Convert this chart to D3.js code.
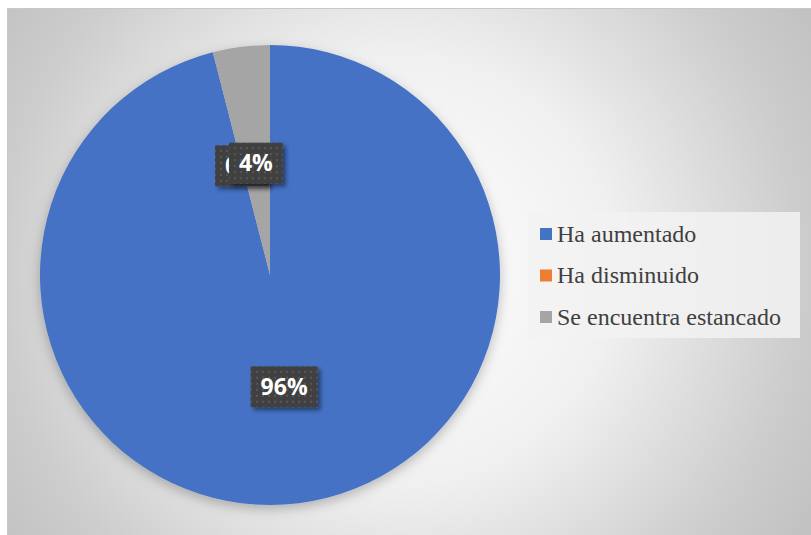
<!DOCTYPE html>
<html>
<head>
<meta charset="utf-8">
<script src="https://cdn.jsdelivr.net/npm/d3@7"></script>
<style>
  html, body { margin: 0; padding: 0; background: #ffffff; }
  svg { display: block; }
  .legend-text { font-family: "Liberation Serif", "DejaVu Serif", "Times New Roman", serif; }
</style>
</head>
<body>
<svg id="chart" width="811" height="535"></svg>
<script>
// Survey answers and their shares (percent)
const categories = ["Ha aumentado", "Ha disminuido", "Se encuentra estancado"];
const values = [96, 0, 4];
const colors = ["#4472c4", "#ed7d31", "#a5a5a5"];

const svg = d3.select("#chart");
const W = 811, H = 535;
const defs = svg.append("defs");

// Radial background fill of the chart area
const bg = defs.append("radialGradient")
  .attr("id", "bgGrad")
  .attr("gradientUnits", "userSpaceOnUse")
  .attr("cx", 400).attr("cy", 270).attr("r", 480);
[[0, "#ffffff"], [0.45, "#f0f0f0"], [0.83, "#cdcdcd"], [1, "#c2c2c2"]].forEach(([o, c]) =>
  bg.append("stop").attr("offset", o).attr("stop-color", c));

// Soft drop shadow for the pie
const sh = defs.append("filter").attr("id", "pieShadow")
  .attr("x", "-10%").attr("y", "-10%").attr("width", "120%").attr("height", "125%");
sh.append("feDropShadow").attr("dx", 0).attr("dy", 4).attr("stdDeviation", 6)
  .attr("flood-color", "#000").attr("flood-opacity", 0.25);

// Shadow for the label boxes
const ls = defs.append("filter").attr("id", "labelShadow")
  .attr("x", "-20%").attr("y", "-20%").attr("width", "150%").attr("height", "160%");
ls.append("feDropShadow").attr("dx", 3).attr("dy", 3).attr("stdDeviation", 2)
  .attr("flood-color", "#000").attr("flood-opacity", 0.45);

// Dotted dark fill for the label boxes
const pat = defs.append("pattern").attr("id", "dots")
  .attr("patternUnits", "userSpaceOnUse").attr("width", 6).attr("height", 6);
pat.append("rect").attr("width", 6).attr("height", 6).attr("fill", "#404040");
pat.append("rect").attr("x", 2).attr("y", 2).attr("width", 2).attr("height", 2).attr("fill", "#585858");

// Chart area
svg.append("rect")
  .attr("x", 7.5).attr("y", 8.5).attr("width", W).attr("height", H)
  .attr("fill", "url(#bgGrad)").attr("stroke", "#c8c8c8").attr("stroke-width", 1);

// Pie
const cx = 270, cy = 275, R = 230;
const pie = d3.pie().sort(null).value(d => d)(values);
const arc = d3.arc().innerRadius(0).outerRadius(R);
const labelArc = d3.arc().innerRadius(R * 0.49).outerRadius(R * 0.49);

const g = svg.append("g").attr("transform", `translate(${cx},${cy})`);
g.append("g").attr("filter", "url(#pieShadow)")
  .selectAll("path").data(pie).join("path")
  .attr("d", arc)
  .attr("fill", (d, i) => colors[i]);

// Data labels (each box + text drawn together, in slice order)
const fmt = v => Math.round(v) + "%";
pie.forEach((d, i) => {
  const [lx, ly] = labelArc.centroid(d);
  const lg = g.append("g").attr("transform", `translate(${lx},${ly})`);
  const t = lg.append("text")
    .attr("text-anchor", "middle")
    .attr("dy", "0.36em")
    .attr("font-family", "'Open Sans', sans-serif")
    .attr("font-weight", "bold")
    .attr("font-size", 23)
    .attr("fill", "#ffffff")
    .text(fmt(values[i]));
  const tw = t.node().getComputedTextLength();
  const bw = tw + 20, bh = 41;
  lg.insert("rect", "text")
    .attr("x", -bw / 2).attr("y", -bh / 2)
    .attr("width", bw).attr("height", bh)
    .attr("fill", "url(#dots)")
    .attr("filter", "url(#labelShadow)");
});

// Legend
const leg = svg.append("g");
leg.append("rect")
  .attr("x", 528).attr("y", 212).attr("width", 272).attr("height", 126)
  .attr("fill", "#f2f2f2").attr("fill-opacity", 0.85);
const rows = [234, 275.5, 317];
categories.forEach((c, i) => {
  const y = rows[i];
  leg.append("rect")
    .attr("x", 540).attr("y", y - 6).attr("width", 12).attr("height", 12)
    .attr("fill", colors[i]);
  leg.append("text")
    .attr("class", "legend-text")
    .attr("x", 557).attr("y", y)
    .attr("dy", "0.33em")
    .attr("font-size", 24)
    .attr("fill", "#404040")
    .text(c);
});
</script>
</body>
</html>
